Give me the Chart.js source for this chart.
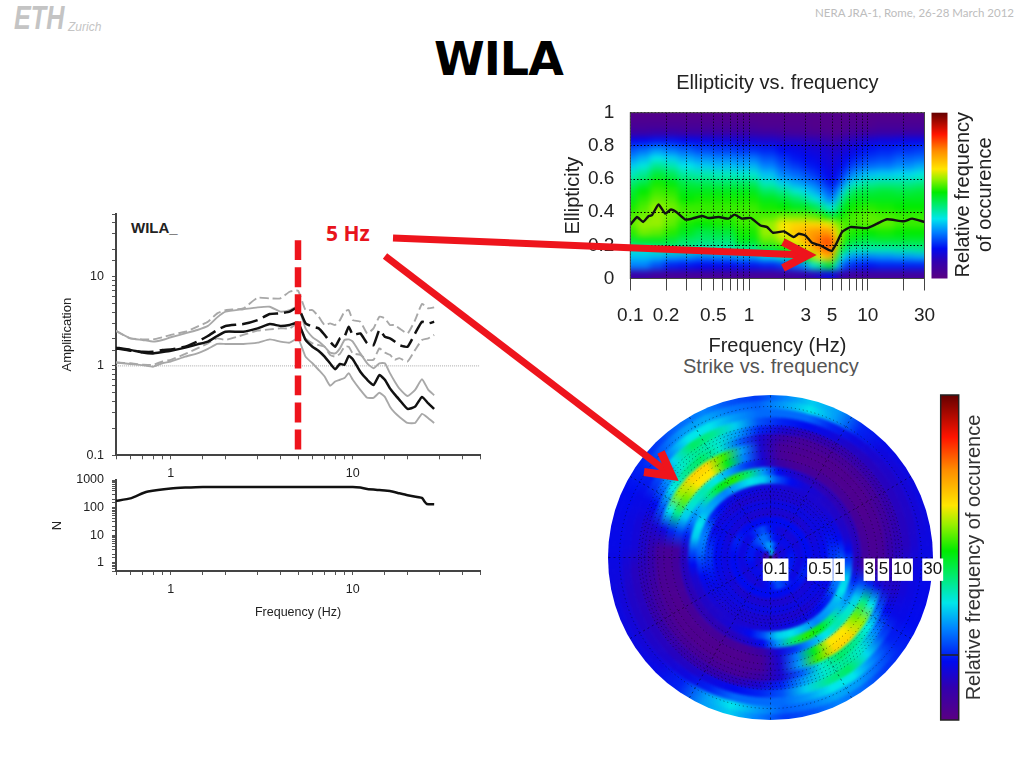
<!DOCTYPE html>
<html>
<head>
<meta charset="utf-8">
<title>WILA</title>
<script src="https://cdn.jsdelivr.net/npm/chart.js@4/dist/chart.umd.min.js"></script>
<style>
    html, body { margin: 0; background: #fff; overflow: hidden; }
    body { position: relative; width: 1024px; height: 768px; font-family: "Liberation Sans", sans-serif; }
    canvas, .txt, svg { position: absolute; }
    .txt { white-space: nowrap; }
    #amp { left: 50px; top: 198px; }
    #count { left: 50px; top: 464px; }
    #ellip { left: 555px; top: 70px; }
    #strikeHeat { left: 602px; top: 389px; filter: blur(1.6px); clip-path: circle(162.5px at 168.5px 168.5px); }
    #strikeAxis { left: 602px; top: 389px; }
    svg { left: 0; top: 0; }
</style>
</head>
<body>
<div class="txt" style="left:14px;top:-2px;font:italic bold 34px 'Liberation Sans';color:#c4c4c4;transform:scaleX(.74);transform-origin:left">ETH</div>
<div class="txt" style="left:68px;top:20px;font:italic 12px 'Liberation Sans';color:#c4c4c4">Zurich</div>
<div class="txt" style="left:815px;top:6px;font:11.5px Lato;color:#bdbdbd">NERA JRA-1, Rome, 26-28 March 2012</div>
<div class="txt" style="left:434px;top:32px;font:bold 46px 'DejaVu Sans';color:#000;letter-spacing:-1px">WILA</div>
<div class="txt" style="left:131px;top:219px;font:bold 15px 'Liberation Sans';color:#222">WILA_</div>
<div class="txt" style="left:326px;top:219px;font:bold 21px 'Open Sans';color:#e8141c">5 Hz</div>
<div class="txt" style="left:683px;top:359px;height:17px;overflow:hidden;font:20px/15px 'Liberation Sans';color:#555">Strike vs. frequency</div>

<canvas id="amp" width="440" height="282"></canvas>
<canvas id="count" width="440" height="156"></canvas>
<canvas id="ellip" width="460" height="288"></canvas>
<canvas id="strikeHeat" width="337" height="337"></canvas>
<canvas id="strikeAxis" width="388" height="337"></canvas>

<svg width="1024" height="768" fill="none" stroke="#ee141c" stroke-width="7">
    <path d="M393 238 L806 255"/>
    <path d="M783 242 L808 255 L783 268" stroke-width="8"/>
    <path d="M385 256 L670 474"/>
    <path d="M661 452 L672 476 L644 472" stroke-width="8"/>
</svg>

<script>
// amplification vs frequency
const ampHz = [0.5, 0.6, 0.7, 0.8, 0.9, 1, 1.2, 1.4, 1.6, 1.8, 2, 2.5, 3, 3.5, 4, 4.5, 5, 5.5, 6, 6.5, 7, 7.5, 8, 8.5, 9, 9.5, 10, 11, 12, 13, 14, 15, 16, 17, 18, 20, 22, 24, 26, 28];
const ampMean = [1.60, 1.51, 1.41, 1.38, 1.43, 1.48, 1.60, 1.74, 1.87, 2.16, 2.41, 2.41, 2.63, 2.94, 2.80, 2.87, 3.04, 1.95, 1.64, 1.47, 1.27, 1.07, 0.92, 1.05, 1.03, 1.29, 1.19, 0.86, 0.70, 0.61, 0.79, 0.70, 0.56, 0.48, 0.42, 0.33, 0.35, 0.45, 0.38, 0.33];
const ampMeanUp = [2.46, 2.03, 1.95, 1.87, 1.95, 2.09, 2.31, 2.52, 2.80, 3.49, 4.04, 4.30, 4.52, 4.59, 4.04, 4.20, 4.60, 2.63, 2.10, 1.87, 1.64, 1.41, 1.38, 1.57, 1.95, 1.98, 1.87, 1.38, 1.07, 0.94, 1.07, 1.07, 0.83, 0.67, 0.56, 0.46, 0.54, 0.71, 0.54, 0.47];
const ampMeanLow = [1.09, 1.05, 1.02, 0.98, 1.07, 1.12, 1.27, 1.38, 1.55, 1.76, 1.76, 1.76, 1.82, 1.98, 1.87, 1.82, 2.03, 1.27, 1.07, 0.90, 0.76, 0.60, 0.67, 0.70, 0.73, 0.83, 0.70, 0.54, 0.44, 0.44, 0.50, 0.45, 0.35, 0.30, 0.27, 0.23, 0.23, 0.29, 0.26, 0.23];
const ampDash = [1.57, 1.48, 1.44, 1.44, 1.51, 1.53, 1.64, 1.87, 2.16, 2.52, 2.80, 2.94, 3.25, 3.80, 3.87, 4.04, 4.52, 2.99, 2.75, 2.63, 2.22, 1.87, 1.64, 2.03, 2.12, 2.75, 2.22, 2.31, 1.79, 1.71, 2.52, 2.12, 2.03, 1.87, 1.71, 1.64, 2.31, 3.12, 2.99, 3.12];
const ampDashUp = [2.46, 2.03, 1.98, 1.98, 2.09, 2.22, 2.41, 2.75, 3.12, 3.87, 4.21, 4.40, 5.78, 5.69, 5.69, 6.75, 6.94, 4.21, 4.21, 3.55, 2.87, 2.99, 2.87, 3.25, 4.04, 4.21, 3.25, 3.12, 2.31, 2.63, 3.55, 3.40, 2.87, 2.87, 2.63, 2.31, 3.25, 4.92, 4.40, 4.52];
const ampDashLow = [1.09, 1.07, 1.03, 1.03, 1.12, 1.17, 1.36, 1.57, 1.79, 2.03, 1.95, 2.22, 2.48, 2.56, 2.63, 2.63, 2.99, 2.03, 1.79, 1.71, 1.64, 1.33, 1.27, 1.36, 1.64, 1.64, 1.38, 1.33, 1.17, 1.17, 1.57, 1.41, 1.33, 1.17, 1.22, 1.12, 1.51, 1.95, 2.03, 2.22];
const markerHz = [5, 5];
const markerAmp = [25.4, 0.102];
const unityHz = [0.5, 50];
const unityAmp = [1, 1];

// number of windows N
const countHz = [0.5, 0.6, 0.7, 0.75, 1, 1.2, 1.5, 3, 5, 10, 11, 12, 14, 16, 18, 20, 24, 24.7, 25.5, 28];
const countN = [175, 215, 330, 385, 490, 530, 560, 560, 560, 560, 530, 470, 430, 400, 330, 280, 225, 170, 135, 132];

// ellipticity curve
const ellipHz = [0.1, 0.114, 0.128, 0.143, 0.152, 0.173, 0.197, 0.22, 0.247, 0.291, 0.331, 0.402, 0.457, 0.555, 0.674, 0.752, 0.872, 1.03, 1.25, 1.42, 1.59, 1.96, 2.38, 2.62, 2.98, 3.39, 3.99, 4.96, 5.51, 6.07, 7.13, 9.86, 12, 14.5, 20, 23.6, 30];
const ellipValue = [0.325, 0.371, 0.341, 0.377, 0.381, 0.446, 0.391, 0.416, 0.398, 0.355, 0.361, 0.377, 0.365, 0.371, 0.361, 0.385, 0.361, 0.365, 0.320, 0.310, 0.276, 0.284, 0.250, 0.270, 0.260, 0.215, 0.199, 0.166, 0.219, 0.280, 0.310, 0.304, 0.331, 0.357, 0.345, 0.361, 0.341];
const ellipTicksHz = [0.1, 0.2, 0.3, 0.4, 0.5, 0.6, 0.7, 0.8, 0.9, 1, 2, 3, 4, 5, 6, 7, 8, 9, 10, 20, 30];
const ellipLabelsHz = [0.1, 0.2, 0.5, 1, 3, 5, 10, 30];

// ellipticity heat map: relative frequency 0..1, one row per ellipticity bin
const heatHz = [0.1, 0.13, 0.17, 0.22, 0.3, 0.4, 0.6, 1, 1.5, 2, 2.5, 3, 3.5, 4, 4.5, 5, 5.5, 6, 7, 8, 10, 14, 20, 30];
const heatEllip = [0.975, 0.925, 0.875, 0.825, 0.775, 0.725, 0.675, 0.625, 0.575, 0.525, 0.475, 0.425, 0.375, 0.325, 0.275, 0.225, 0.175, 0.125, 0.075, 0.025];
const heatLevels = [
    [.02, .02, .02, .02, .02, .02, .02, .02, .02, .02, .02, .02, .02, .02, .02, .02, .02, .02, .02, .02, .02, .02, .02, .02],
    [.04, .04, .04, .04, .04, .04, .04, .04, .03, .03, .03, .03, .02, .02, .02, .02, .02, .02, .03, .03, .03, .04, .04, .04],
    [.08, .08, .09, .09, .08, .08, .08, .08, .07, .06, .05, .05, .04, .04, .04, .03, .03, .04, .05, .06, .07, .08, .08, .08],
    [.17, .18, .19, .19, .18, .17, .16, .15, .14, .13, .13, .12, .12, .11, .10, .09, .09, .11, .12, .13, .15, .16, .17, .17],
    [.24, .26, .29, .27, .25, .23, .22, .21, .20, .18, .17, .16, .15, .15, .14, .13, .13, .14, .15, .17, .19, .20, .21, .22],
    [.29, .32, .36, .34, .31, .29, .28, .27, .24, .21, .19, .18, .17, .16, .15, .14, .15, .16, .18, .20, .22, .23, .25, .26],
    [.34, .37, .42, .40, .36, .34, .33, .32, .28, .24, .22, .20, .19, .18, .16, .15, .16, .18, .21, .24, .26, .27, .29, .31],
    [.39, .42, .48, .46, .41, .40, .39, .38, .33, .28, .26, .24, .22, .20, .18, .16, .18, .21, .26, .30, .33, .34, .35, .37],
    [.44, .47, .53, .51, .47, .46, .45, .45, .39, .34, .31, .29, .27, .24, .21, .18, .21, .26, .33, .38, .41, .42, .42, .43],
    [.48, .52, .55, .54, .50, .50, .50, .50, .45, .42, .38, .35, .32, .29, .26, .22, .27, .34, .42, .46, .47, .48, .47, .48],
    [.50, .54, .57, .56, .52, .53, .53, .53, .50, .48, .45, .42, .38, .35, .30, .27, .33, .42, .48, .50, .50, .50, .50, .50],
    [.53, .56, .60, .58, .55, .55, .55, .55, .53, .52, .50, .50, .47, .44, .40, .36, .42, .48, .52, .53, .54, .53, .52, .52],
    [.56, .58, .60, .58, .56, .55, .55, .56, .56, .58, .58, .58, .57, .55, .52, .47, .50, .52, .55, .56, .57, .56, .55, .55],
    [.57, .60, .60, .57, .53, .52, .53, .55, .60, .66, .68, .68, .68, .68, .66, .64, .60, .57, .56, .56, .57, .57, .55, .55],
    [.54, .58, .57, .54, .50, .47, .48, .53, .60, .65, .70, .73, .75, .76, .76, .75, .65, .58, .54, .53, .52, .53, .52, .52],
    [.48, .50, .50, .48, .45, .44, .44, .50, .57, .61, .66, .72, .77, .80, .82, .82, .70, .56, .50, .48, .47, .48, .48, .48],
    [.38, .38, .40, .42, .42, .40, .40, .42, .48, .52, .58, .66, .72, .77, .80, .80, .62, .48, .42, .40, .40, .40, .41, .42],
    [.33, .33, .32, .30, .29, .27, .28, .30, .34, .38, .44, .52, .60, .66, .72, .72, .55, .36, .31, .29, .28, .29, .30, .31],
    [.28, .28, .24, .20, .19, .18, .18, .19, .20, .22, .26, .30, .38, .42, .46, .50, .36, .26, .22, .20, .19, .20, .20, .20],
    [.08, .08, .06, .05, .05, .05, .05, .05, .05, .06, .07, .09, .11, .13, .15, .17, .12, .09, .07, .06, .06, .06, .06, .06]
];

// strike rose: one row per ring (outer to inner), one value per 10 degree sector
// from west through north to east; the opposite half repeats it
const strikeDeg = [-85, -75, -65, -55, -45, -35, -25, -15, -5, 5, 15, 25, 35, 45, 55, 65, 75, 85];
const strikeRingHz = [26, 20, 15, 11, 8.2, 6.2, 4.6, 3.4, 2.6, 1.9, 1.4, 1.07, 0.8, 0.6, 0.45, 0.33, 0.25, 0.19, 0.14, 0.105];
const strikeLevels = [
    [.17, .17, .18, .20, .22, .26, .28, .24, .22, .28, .34, .30, .20, .17, .16, .16, .16, .16],
    [.17, .17, .18, .20, .25, .30, .31, .27, .25, .30, .36, .30, .20, .16, .15, .15, .15, .16],
    [.16, .16, .17, .20, .28, .36, .36, .30, .26, .26, .26, .20, .16, .14, .13, .13, .13, .14],
    [.15, .15, .17, .23, .35, .45, .42, .34, .24, .20, .18, .16, .13, .12, .12, .12, .12, .12],
    [.13, .13, .18, .28, .38, .42, .38, .30, .20, .14, .11, .10, .09, .09, .09, .09, .10, .11],
    [.10, .14, .24, .36, .42, .45, .38, .25, .14, .08, .05, .05, .05, .05, .05, .06, .07, .09],
    [.06, .16, .36, .60, .68, .68, .55, .30, .14, .05, .04, .03, .03, .03, .03, .04, .04, .05],
    [.05, .20, .42, .58, .66, .66, .50, .28, .14, .05, .03, .03, .03, .03, .03, .03, .04, .04],
    [.06, .22, .34, .38, .40, .36, .30, .22, .15, .08, .05, .05, .05, .05, .05, .05, .05, .06],
    [.12, .20, .28, .32, .42, .50, .54, .44, .30, .18, .14, .12, .11, .11, .11, .11, .12, .12],
    [.24, .34, .36, .32, .30, .28, .32, .36, .34, .24, .18, .15, .14, .13, .13, .13, .14, .18],
    [.26, .28, .26, .20, .18, .16, .16, .16, .15, .15, .14, .14, .14, .14, .15, .16, .18, .22],
    [.22, .20, .17, .16, .15, .14, .14, .14, .14, .14, .14, .14, .15, .15, .16, .17, .19, .21],
    [.18, .18, .17, .17, .16, .16, .16, .16, .16, .16, .16, .16, .16, .16, .16, .16, .17, .18],
    [.16, .16, .15, .15, .15, .15, .14, .14, .14, .14, .14, .14, .14, .14, .15, .15, .16, .16],
    [.18, .19, .20, .19, .18, .18, .18, .18, .18, .18, .18, .18, .18, .18, .18, .18, .18, .18],
    [.16, .16, .16, .16, .17, .20, .22, .24, .20, .18, .16, .15, .15, .15, .15, .15, .16, .16],
    [.19, .19, .19, .20, .22, .24, .26, .26, .24, .20, .18, .17, .17, .17, .17, .17, .18, .19],
    [.16, .16, .16, .18, .20, .24, .26, .30, .30, .28, .24, .20, .17, .15, .15, .15, .15, .16],
    [.08, .08, .08, .08, .10, .14, .18, .20, .30, .38, .40, .30, .20, .10, .08, .08, .08, .08]
];
const strikeLabelsHz = [0.1, 0.5, 1, 3, 5, 10, 30];
const strikeGridHz = [0.2, 0.3, 0.4, 0.5, 0.6, 0.7, 0.8, 0.9, 1, 2, 3, 4, 5, 6, 7, 8, 9, 10, 20];
const strikeSpokesDeg = [0, 30, 60, 90, 120, 150, 180, 210, 240, 270, 300, 330];

// colour scale shared by both heat maps and bars: [level, r, g, b]
const colorStops = [
    [0, 90, 0, 130], [0.1, 50, 0, 175], [0.18, 0, 10, 240], [0.28, 0, 130, 255], [0.36, 0, 230, 235],
    [0.45, 0, 235, 100], [0.52, 0, 235, 0], [0.6, 150, 240, 0], [0.66, 255, 230, 0], [0.77, 255, 140, 0],
    [0.87, 255, 20, 0], [1, 100, 0, 0]
];

function colorAt(level) {
    let i = 1;
    while (i < colorStops.length - 1 && level > colorStops[i][0]) i++;
    const a = colorStops[i - 1], b = colorStops[i];
    const t = Math.min(1, Math.max(0, (level - a[0]) / (b[0] - a[0])));
    const mix = k => Math.round(a[k] + (b[k] - a[k]) * t);
    return `rgb(${mix(1)},${mix(2)},${mix(3)})`;
}

function drawColorBar(ctx, x, y, w, h) {
    const grad = ctx.createLinearGradient(0, y + h, 0, y);
    colorStops.forEach(s => grad.addColorStop(s[0], colorAt(s[0])));
    ctx.fillStyle = grad;
    ctx.fillRect(x, y, w, h);
}

function sideText(ctx, lines, x, y, font, color) {
    ctx.save();
    ctx.font = font;
    ctx.fillStyle = color;
    ctx.textAlign = 'center';
    ctx.textBaseline = 'middle';
    lines.forEach(l => {
        ctx.save();
        ctx.translate(x + l.dx, y);
        ctx.rotate(-Math.PI / 2);
        ctx.fillText(l.text, 0, 0);
        ctx.restore();
    });
    ctx.restore();
}

// smooth colour round one ring, with one stop at the middle of each sector
function ringGradient(chart, levels) {
    const g = chart.ctx.createConicGradient(Math.PI, chart.width / 2, chart.height / 2);
    const n = levels.length;
    const seam = colorAt((levels[0] + levels[n - 1]) / 2);
    g.addColorStop(0, seam);
    levels.forEach((v, i) => g.addColorStop((i + 0.5) / n, colorAt(v)));
    g.addColorStop(1, seam);
    return g;
}

const points = (xs, ys) => xs.map((x, i) => ({ x, y: ys[i] }));
const isDecade = v => Math.abs(Math.log10(v) - Math.round(Math.log10(v))) < 1e-9;
const decadeLabel = v => isDecade(v) ? String(Number(v.toPrecision(3))) : '';
const fixWidth = w => scale => { scale.width = w; };
const fixHeight = h => scale => { scale.height = h; };
const keepTicks = list => scale => { scale.ticks = list.map(value => ({ value })); };

function curve(data, color, width, dash) {
    return { data, showLine: true, borderColor: color, borderWidth: width, borderDash: dash || [], pointRadius: 0, tension: 0.15 };
}

const baseOptions = {
    responsive: false,
    animation: false,
    devicePixelRatio: 1,
    events: [],
    plugins: { legend: { display: false }, tooltip: { enabled: false } }
};

function plainLogX(height, tickPad, titleText) {
    return {
        type: 'logarithmic', min: 0.5, max: 50, afterFit: fixHeight(height),
        border: { color: '#444', width: 2 },
        grid: { drawOnChartArea: false, color: '#555', tickLength: 4 },
        ticks: { autoSkip: false, maxRotation: 0, padding: tickPad, color: '#222', font: { size: 12.5, family: 'Liberation Sans' }, callback: decadeLabel },
        title: titleText ? { display: true, text: titleText, color: '#222', padding: { bottom: 0 }, font: { size: 12.5, family: 'Liberation Sans' } } : { display: false }
    };
}

function plainLogY(min, max, titleText, titlePad) {
    return {
        type: 'logarithmic', min, max, afterFit: fixWidth(66),
        border: { color: '#444', width: 2 },
        grid: { drawOnChartArea: false, color: '#555', tickLength: 4 },
        ticks: { autoSkip: false, padding: 8, color: '#222', font: { size: 12.5, family: 'Liberation Sans' }, callback: decadeLabel },
        title: { display: true, text: titleText, color: '#222', padding: { top: titlePad, bottom: 0 }, font: { size: 13, family: 'Liberation Sans' } }
    };
}

new Chart(document.getElementById('amp'), {
    type: 'scatter',
    data: {
        datasets: [
            curve(points(markerHz, markerAmp), '#ee141c', 6.5, [20, 7]),
            curve(points(ampHz, ampMean), '#111', 2.5),
            curve(points(ampHz, ampDash), '#111', 2.5, [16, 6]),
            curve(points(ampHz, ampMeanUp), '#a8a8a8', 1.9),
            curve(points(ampHz, ampMeanLow), '#a8a8a8', 1.9),
            curve(points(ampHz, ampDashUp), '#a8a8a8', 1.9, [9, 4]),
            curve(points(ampHz, ampDashLow), '#a8a8a8', 1.9, [9, 4]),
            curve(points(unityHz, unityAmp), '#aaa', 1, [1, 1])
        ]
    },
    options: {
        ...baseOptions,
        layout: { padding: { top: 16, right: 10, left: 0, bottom: 0 } },
        scales: { x: plainLogX(24.7, 7), y: plainLogY(0.1, 50, 'Amplification', 10) }
    }
});

new Chart(document.getElementById('count'), {
    type: 'scatter',
    data: { datasets: [curve(points(countHz, countN), '#111', 2.5)] },
    options: {
        ...baseOptions,
        layout: { padding: { top: 16, right: 10, left: 0, bottom: 0 } },
        scales: { x: plainLogX(49, 7, 'Frequency (Hz)'), y: plainLogY(0.5, 1000, 'N', 0) }
    }
});

const ellipHeat = {
    id: 'ellipHeat',
    beforeDraw(chart) {
        const { ctx, chartArea: area, scales: { x, y } } = chart;
        const off = document.createElement('canvas');
        off.width = chart.width;
        off.height = chart.height;
        const o = off.getContext('2d');
        heatEllip.forEach((e, r) => {
            const top = y.getPixelForValue(e + 0.025) - (r === 0 ? 12 : 0);
            const bottom = y.getPixelForValue(e - 0.025) + (r === heatEllip.length - 1 ? 12 : 0);
            heatHz.forEach((f, c) => {
                const left = c === 0 ? area.left - 12 : x.getPixelForValue(Math.sqrt(f * heatHz[c - 1]));
                const right = c === heatHz.length - 1 ? area.right + 12 : x.getPixelForValue(Math.sqrt(f * heatHz[c + 1]));
                o.fillStyle = colorAt(heatLevels[r][c]);
                o.fillRect(Math.floor(left), Math.floor(top), Math.ceil(right) - Math.floor(left), Math.ceil(bottom) - Math.floor(top));
            });
        });
        ctx.save();
        ctx.beginPath();
        ctx.rect(area.left, area.top, area.width, area.height);
        ctx.clip();
        ctx.filter = 'blur(3px)';
        ctx.drawImage(off, 0, 0);
        ctx.restore();
    },
    afterDraw(chart) {
        const { ctx, chartArea: area } = chart;
        ctx.strokeStyle = '#444';
        ctx.lineWidth = 1;
        ctx.strokeRect(area.left, area.top, area.width, area.height);
        drawColorBar(ctx, area.right + 7, area.top, 16, area.height);
        sideText(ctx, [{ text: 'Relative frequency', dx: 0 }, { text: 'of occurence', dx: 22 }], area.right + 39, area.top + 82, '20px "Liberation Sans"', '#222');
    }
};

new Chart(document.getElementById('ellip'), {
    type: 'scatter',
    plugins: [ellipHeat],
    data: { datasets: [curve(points(ellipHz, ellipValue), '#111', 2.4)] },
    options: {
        ...baseOptions,
        layout: { padding: { top: 0, right: 90.5, left: 0, bottom: 0 } },
        plugins: {
            ...baseOptions.plugins,
            title: { display: true, text: 'Ellipticity vs. frequency', fullSize: false, color: '#222', padding: { top: 1, bottom: 17.7 }, font: { size: 20, weight: 'normal', family: 'Liberation Sans' } }
        },
        scales: {
            x: {
                type: 'logarithmic', min: 0.1, max: 30, afterFit: fixHeight(79.5), afterBuildTicks: keepTicks(ellipTicksHz),
                border: { display: false, dash: [1, 2] },
                grid: { color: '#000', lineWidth: 1, tickLength: 12, tickColor: '#444', tickBorderDash: [] },
                ticks: { autoSkip: false, maxRotation: 0, padding: 14, color: '#222', font: { size: 19, family: 'Liberation Sans' }, callback: v => ellipLabelsHz.includes(v) ? String(v) : '' },
                title: { display: true, text: 'Frequency (Hz)', color: '#222', padding: { bottom: 0 }, font: { size: 20, family: 'Liberation Sans' } }
            },
            y: {
                min: 0, max: 1, afterFit: fixWidth(75.3),
                border: { display: false, dash: [1.5, 2] },
                grid: { color: '#000', lineWidth: 1, tickLength: 0 },
                ticks: { stepSize: 0.2, padding: 16, color: '#222', font: { size: 19, family: 'Liberation Sans' }, callback: v => String(Number(v.toFixed(1))) },
                title: { display: true, text: 'Ellipticity', color: '#222', padding: { top: 6, bottom: 0 }, font: { size: 20, family: 'Liberation Sans' } }
            }
        }
    }
});

// strike rose: each ring of the doughnut is one frequency, each slice one strike bin
new Chart(document.getElementById('strikeHeat'), {
    type: 'doughnut',
    data: {
        labels: strikeDeg.concat(strikeDeg.map(d => d + 180)),
        datasets: strikeLevels.map((row, i) => {
            const levels = row.concat(row);
            const fill = c => ringGradient(c.chart, levels);
            return { label: strikeRingHz[i] + ' Hz', data: levels.map(() => 10), backgroundColor: fill, borderColor: fill, borderWidth: 1 };
        })
    },
    options: {
        ...baseOptions,
        rotation: -90,
        cutout: 0,
        layout: { padding: 2.5 }
    }
});

const strikeGrid = {
    id: 'strikeGrid',
    beforeDraw(chart) {
        const { ctx, chartArea: area, scales: { x } } = chart;
        const cx = area.left, cy = area.bottom;
        const outer = x.getPixelForValue(30) - cx;
        const barX = area.right + 8;
        const barTop = area.bottom - 162.5;
        ctx.save();
        ctx.strokeStyle = 'rgba(0,0,0,0.5)';
        ctx.lineWidth = 1;
        ctx.setLineDash([1, 3]);
        strikeGridHz.forEach(f => {
            ctx.beginPath();
            ctx.arc(cx, cy, x.getPixelForValue(f) - cx, 0, Math.PI * 2);
            ctx.stroke();
        });
        ctx.setLineDash([2, 3]);
        strikeSpokesDeg.forEach(d => {
            const a = d * Math.PI / 180;
            ctx.beginPath();
            ctx.moveTo(cx, cy);
            ctx.lineTo(cx + outer * Math.sin(a), cy - outer * Math.cos(a));
            ctx.stroke();
        });
        ctx.restore();

        drawColorBar(ctx, barX, barTop, 18, 325);
        ctx.strokeStyle = '#222';
        ctx.lineWidth = 1.5;
        ctx.strokeRect(barX, barTop, 18, 325);
        ctx.beginPath();
        ctx.moveTo(barX, barTop + 260);
        ctx.lineTo(barX + 18, barTop + 260);
        ctx.stroke();
        sideText(ctx, [{ text: 'Relative frequency of occurence', dx: 0 }], barX + 34, area.bottom, '20px "Liberation Sans"', '#333');
    }
};

new Chart(document.getElementById('strikeAxis'), {
    type: 'scatter',
    plugins: [strikeGrid],
    data: { datasets: [{ data: [] }] },
    options: {
        ...baseOptions,
        layout: { padding: { left: 168.5, top: 6, right: 57.3, bottom: 138.5 } },
        scales: {
            x: {
                type: 'logarithmic', min: 0.083, max: 30, afterFit: fixHeight(30), afterBuildTicks: keepTicks(strikeLabelsHz),
                border: { display: false },
                grid: { display: false, drawTicks: false },
                ticks: {
                    autoSkip: false, maxRotation: 0, padding: 2, color: '#111',
                    font: { size: 17, family: 'Liberation Sans' },
                    showLabelBackdrop: true, backdropColor: '#fff', backdropPadding: { x: 1, y: 1 },
                    callback: v => String(v)
                }
            },
            y: { display: false, min: 0, max: 1 }
        }
    }
});
</script>
</body>
</html>
